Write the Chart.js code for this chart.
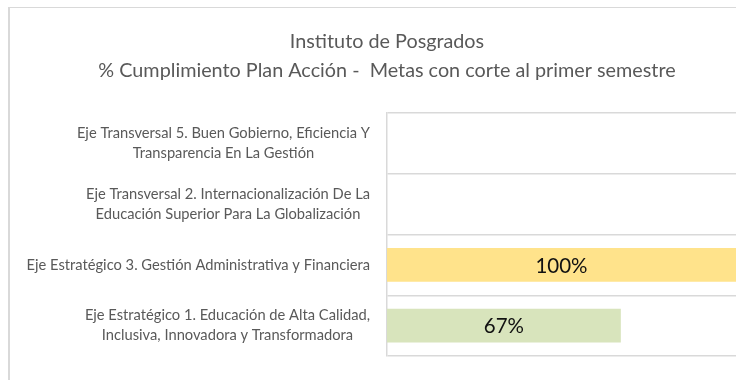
<!DOCTYPE html>
<html>
<head>
<meta charset="utf-8">
<script src="https://cdn.jsdelivr.net/npm/chart.js@4.4.1/dist/chart.umd.min.js"></script>
<style>
  html, body { margin: 0; padding: 0; background: #fff; }
  #frame {
    position: absolute;
    left: 8px;
    top: 7px;
    width: 726px;
    height: 372px;
    border-left: 2px solid #d9d9d9;
    border-top: 1px solid #d9d9d9;
    overflow: hidden;
  }
  #chart { display: block; }
</style>
</head>
<body>
<div id="frame">
  <canvas id="chart" width="754" height="372"></canvas>
</div>
<script>
const titleLines = [
  "Instituto de Posgrados",
  "% Cumplimiento Plan Acción -  Metas con corte al primer semestre"
]
const categories = [
  ["Eje Transversal 5. Buen Gobierno, Eficiencia Y", "Transparencia En La Gestión"],
  ["Eje Transversal 2. Internacionalización De La", "Educación Superior Para La Globalización"],
  ["Eje Estratégico 3. Gestión Administrativa y Financiera"],
  ["Eje Estratégico 1. Educación de Alta Calidad,", "Inclusiva, Innovadora y Transformadora"]
]
const cumplimiento = [null, null, 1.00, 0.67]
const barColors = ["#ffffff", "#ffffff", "#ffe38b", "#d8e4bc"]

const FONT = "Lato, 'Noto Sans', sans-serif"
const GRID = "#d9d9d9"

// category labels: block right-aligned against the axis, each line centred in the block
const categoryLabels = {
  id: "categoryLabels",
  afterDraw(chart) {
    const ctx = chart.ctx
    const y = chart.scales.y
    const right = chart.chartArea.left - 17
    ctx.save()
    ctx.font = "14.7px " + FONT
    ctx.fillStyle = "#595959"
    ctx.textAlign = "center"
    ctx.textBaseline = "middle"
    categories.forEach((lines, i) => {
      const maxW = Math.max(...lines.map(l => ctx.measureText(l).width))
      const cx = right - maxW / 2
      const cy = y.getPixelForValue(i)
      lines.forEach((line, j) => {
        ctx.fillText(line, cx, cy + (j - (lines.length - 1) / 2) * 20)
      })
    })
    ctx.restore()
  }
}

// percentage centred inside each bar
const barValues = {
  id: "barValues",
  afterDatasetsDraw(chart) {
    const ctx = chart.ctx
    const meta = chart.getDatasetMeta(0)
    ctx.save()
    ctx.font = "20.5px " + FONT
    ctx.fillStyle = "#111"
    ctx.textAlign = "center"
    ctx.textBaseline = "middle"
    meta.data.forEach((bar, i) => {
      const v = cumplimiento[i]
      if (v === null) return
      ctx.fillText(Math.round(v * 100) + "%", (bar.base + bar.x) / 2, bar.y + 1)
    })
    ctx.restore()
  }
}

new Chart(document.getElementById("chart"), {
  type: "bar",
  data: {
    labels: categories,
    datasets: [{
      data: cumplimiento,
      backgroundColor: barColors,
      borderWidth: 0,
      barPercentage: 0.556,
      categoryPercentage: 1
    }]
  },
  options: {
    indexAxis: "y",
    responsive: false,
    animation: false,
    events: [],
    layout: { padding: { top: 0, bottom: 24, left: 0, right: 0 } },
    plugins: {
      legend: { display: false },
      tooltip: { enabled: false },
      title: {
        display: true,
        text: titleLines,
        color: "#595959",
        font: { family: FONT, size: 19.8, weight: "normal", lineHeight: 1.42 },
        padding: { top: 20, bottom: 29 }
      }
    },
    scales: {
      x: { display: false, min: 0, max: 1 },
      y: {
        grid: { color: GRID, lineWidth: 1.5, drawTicks: false },
        border: { color: GRID, width: 1.5 },
        ticks: { display: false },
        afterFit(scale) { scale.width = 377 }
      },
      yRight: {
        type: "category",
        position: "right",
        grid: { display: false },
        border: { display: false },
        ticks: { display: false },
        afterFit(scale) { scale.width = 28 }
      }
    }
  },
  plugins: [categoryLabels, barValues]
})
</script>
</body>
</html>
